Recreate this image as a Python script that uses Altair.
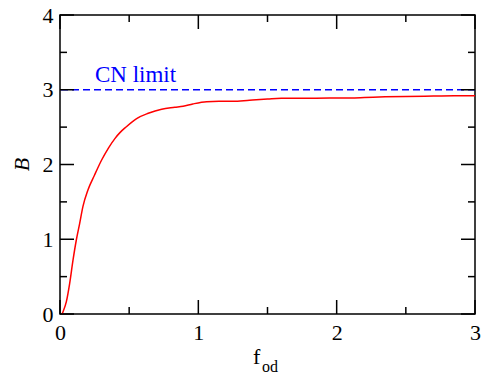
import altair as alt
import pandas as pd

# ---- data ----
f_od = [0.015, 0.022, 0.046, 0.07, 0.094, 0.118, 0.142, 0.166, 0.202, 0.25, 0.301,
        0.35, 0.398, 0.435, 0.47, 0.554, 0.638, 0.735, 0.83, 0.89, 0.96, 1.06, 1.15,
        1.25, 1.37, 1.50, 1.60, 1.75, 1.95, 2.10, 2.20, 2.35, 2.50, 2.70, 2.85, 3.00]
B_vals = [0.0, 0.03, 0.165, 0.41, 0.72, 0.99, 1.21, 1.44, 1.66, 1.86, 2.06,
          2.22, 2.35, 2.43, 2.49, 2.615, 2.685, 2.74, 2.765, 2.78, 2.81, 2.84, 2.845,
          2.845, 2.86, 2.875, 2.885, 2.885, 2.89, 2.89, 2.895, 2.905, 2.91, 2.915, 2.92, 2.92]
cn_limit = [3.0]
cn_label = ["CN limit"]
cn_label_x = [0.253]
cn_label_y = [3.108]
x_major = [0, 1, 2, 3]
x_minor = [0.5, 1.5, 2.5]
y_major = [0, 1, 2, 3, 4]
y_minor = [0.5, 1.5, 2.5, 3.5]

W, H = 415, 299
FONT = "Liberation Serif, Times New Roman, Times, DejaVu Serif, serif"

curve = pd.DataFrame({"f": f_od, "B": B_vals})
xs = alt.Scale(domain=[0, 3], nice=False, zero=False)
ys = alt.Scale(domain=[0, 4], nice=False, zero=False)

line = alt.Chart(curve).mark_line(color="#ff0000", strokeWidth=1.5, interpolate="monotone").encode(
    x=alt.X("f:Q", scale=xs,
            axis=alt.Axis(values=x_major, format="d", title=None, ticks=False, tickSize=0,
                          domain=False, grid=False, labelFont=FONT, labelFontSize=22,
                          labelColor="black", labelPadding=8, labelFlush=False)),
    y=alt.Y("B:Q", scale=ys,
            axis=alt.Axis(values=y_major, format="d", title=None, ticks=False, tickSize=0,
                          domain=False, grid=False, labelFont=FONT, labelFontSize=22,
                          labelColor="black", labelPadding=7)),
)

limit = alt.Chart(pd.DataFrame({"v": cn_limit})).mark_rule(
    color="#0000ff", strokeWidth=1.5, strokeDash=[7, 4]
).encode(y=alt.Y("v:Q", scale=ys))

label = alt.Chart(pd.DataFrame({"t": cn_label, "x": cn_label_x, "y": cn_label_y})).mark_text(
    color="#0000ff", font=FONT, fontSize=23, align="left", baseline="alphabetic"
).encode(x=alt.X("x:Q", scale=xs), y=alt.Y("y:Q", scale=ys), text="t:N")


def xticks(vals, length, top):
    df = pd.DataFrame({"v": vals})
    if top:
        y1, y2 = 0, length
    else:
        y1, y2 = H, H - length
    return alt.Chart(df).mark_rule(color="black", strokeWidth=1.5).encode(
        x=alt.X("v:Q", scale=xs), y=alt.value(y1), y2=alt.value(y2))


def yticks(vals, length, right):
    df = pd.DataFrame({"v": vals})
    if right:
        x1, x2 = W, W - length
    else:
        x1, x2 = 0, length
    return alt.Chart(df).mark_rule(color="black", strokeWidth=1.5).encode(
        y=alt.Y("v:Q", scale=ys), x=alt.value(x1), x2=alt.value(x2))


ticks = [xticks(x_major, 14, False), xticks(x_major, 14, True),
         xticks(x_minor, 7, False), xticks(x_minor, 7, True),
         yticks(y_major, 14, False), yticks(y_major, 14, True),
         yticks(y_minor, 7, False), yticks(y_minor, 7, True)]

title_df = pd.DataFrame({"t": ["x"]})
ytitle = alt.Chart(title_df).mark_text(
    text="B", font=FONT, fontSize=22, fontStyle="italic", angle=270,
    align="center", baseline="alphabetic", color="black"
).encode(x=alt.value(-31), y=alt.value(H / 2))
xtitle_f = alt.Chart(title_df).mark_text(
    text="f", font=FONT, fontSize=22, align="left", baseline="alphabetic", color="black"
).encode(x=alt.value(193), y=alt.value(349))
xtitle_sub = alt.Chart(title_df).mark_text(
    text="od", font=FONT, fontSize=16, align="left", baseline="alphabetic", color="black"
).encode(x=alt.value(202), y=alt.value(357))

chart = alt.layer(limit, line, label, *ticks, ytitle, xtitle_f, xtitle_sub).properties(
    width=W, height=H,
    autosize=alt.AutoSizeParams(type="none"),
    padding={"left": 60, "top": 15, "right": 9, "bottom": 61},
    background="white",
).configure_view(stroke="black", strokeWidth=1.5)

chart.save("out.html", embed_options={"renderer": "svg", "actions": False})
